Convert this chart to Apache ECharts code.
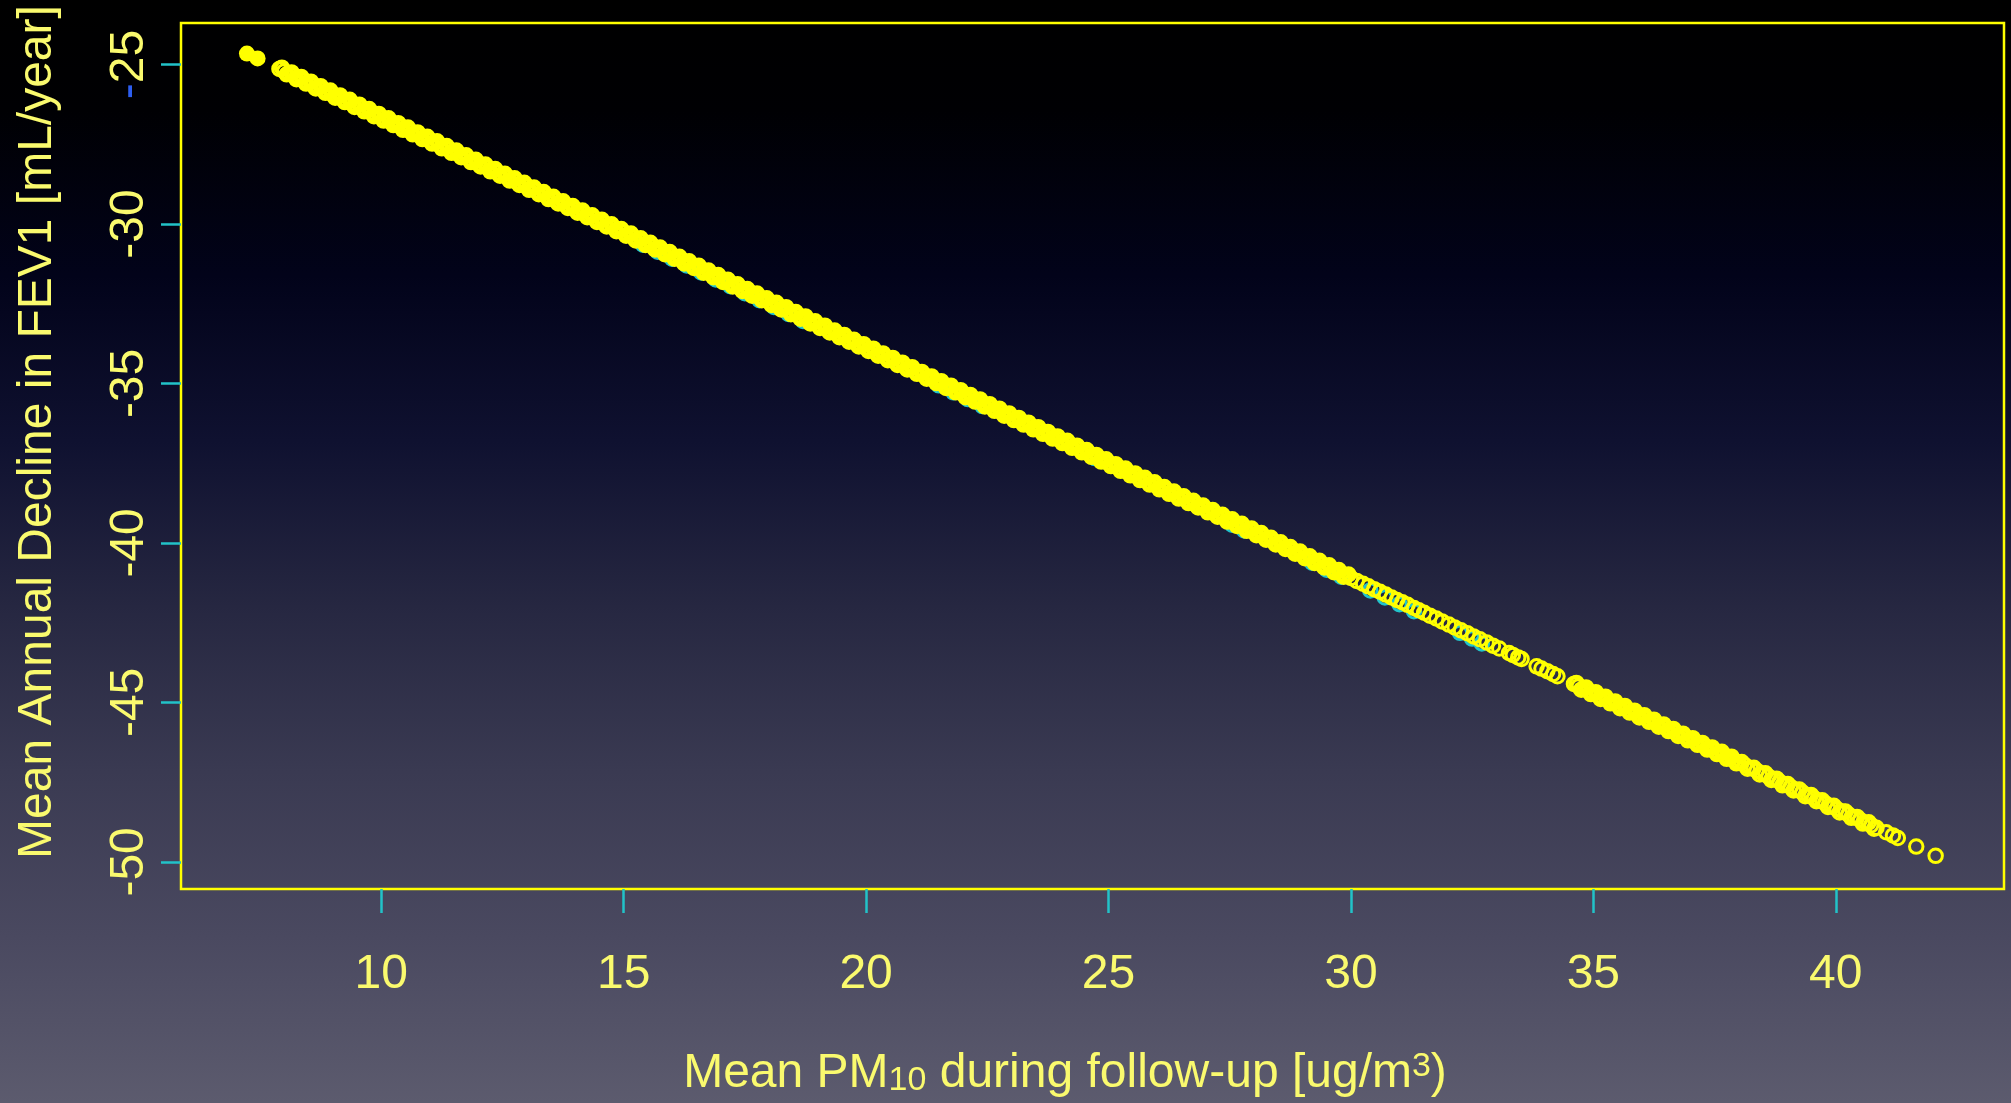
<!DOCTYPE html>
<html>
<head>
<meta charset="utf-8">
<title>Mean annual FEV1 decline vs mean PM10</title>
<script src="https://cdn.jsdelivr.net/npm/echarts@6/dist/echarts.min.js"></script>
<style>
  html, body { margin: 0; padding: 0; }
  body {
    width: 2011px; height: 1103px; overflow: hidden;
    background: linear-gradient(to bottom, #000000 0%, #000003 10%, #02031a 25%, #0f1130 40%, #262741 55%, #3a3a52 70%, #4a4960 85%, #5c5b6e 100%);
  }
  #chart { width: 2011px; height: 1103px; }
</style>
</head>
<body>
<div id="chart"></div>
<script>
// Tick positions on both axes
const xTicks = [10, 15, 20, 25, 30, 35, 40];
const yTicks = [-50, -45, -40, -35, -30, -25];

// Repeated identical values at the low-exposure end (drawn as solid dots)
const repeatedPoints = [[7.23, -24.66], [7.45, -24.81]];

// Participants: mean PM10 [ug/m3] vs predicted mean annual FEV1 decline [mL/year]
const cohortPoints = [
  [7.9,-25.14],[8.0,-25.21],[8.1,-25.28],[8.2,-25.35],[8.3,-25.43],[8.4,-25.50],[8.5,-25.57],[8.6,-25.64],[8.7,-25.71],[8.8,-25.79],[8.9,-25.86],
  [9.0,-25.93],[9.1,-26.00],[9.2,-26.08],[9.3,-26.15],[9.4,-26.22],[9.5,-26.29],[9.6,-26.36],[9.7,-26.44],[9.8,-26.51],[9.9,-26.58],
  [10.0,-26.65],[10.1,-26.73],[10.2,-26.80],[10.3,-26.87],[10.4,-26.94],[10.5,-27.01],[10.6,-27.09],[10.7,-27.16],[10.8,-27.23],[10.9,-27.30],
  [11.0,-27.38],[11.1,-27.45],[11.2,-27.52],[11.3,-27.59],[11.4,-27.66],[11.5,-27.74],[11.6,-27.81],[11.7,-27.88],[11.8,-27.95],[11.9,-28.03],
  [12.0,-28.10],[12.1,-28.17],[12.2,-28.24],[12.3,-28.31],[12.4,-28.39],[12.5,-28.46],[12.6,-28.53],[12.7,-28.60],[12.8,-28.68],[12.9,-28.75],
  [13.0,-28.82],[13.1,-28.89],[13.2,-28.96],[13.3,-29.04],[13.4,-29.11],[13.5,-29.18],[13.6,-29.25],[13.7,-29.33],[13.8,-29.40],[13.9,-29.47],
  [14.0,-29.54],[14.1,-29.61],[14.2,-29.69],[14.3,-29.76],[14.4,-29.83],[14.5,-29.90],[14.6,-29.98],[14.7,-30.05],[14.8,-30.12],[14.9,-30.19],
  [15.0,-30.26],[15.1,-30.34],[15.2,-30.41],[15.3,-30.48],[15.4,-30.55],[15.5,-30.63],[15.6,-30.70],[15.7,-30.77],[15.8,-30.84],[15.9,-30.92],
  [16.0,-30.99],[16.1,-31.06],[16.2,-31.13],[16.3,-31.20],[16.4,-31.28],[16.5,-31.35],[16.6,-31.42],[16.7,-31.49],[16.8,-31.57],[16.9,-31.64],
  [17.0,-31.71],[17.1,-31.78],[17.2,-31.85],[17.3,-31.93],[17.4,-32.00],[17.5,-32.07],[17.6,-32.14],[17.7,-32.22],[17.8,-32.29],[17.9,-32.36],
  [18.0,-32.43],[18.1,-32.50],[18.2,-32.58],[18.3,-32.65],[18.4,-32.72],[18.5,-32.79],[18.6,-32.86],[18.7,-32.94],[18.8,-33.01],[18.9,-33.08],
  [19.0,-33.15],[19.1,-33.23],[19.2,-33.30],[19.3,-33.37],[19.4,-33.44],[19.5,-33.52],[19.6,-33.59],[19.7,-33.66],[19.8,-33.73],[19.9,-33.80],
  [20.0,-33.88],[20.1,-33.95],[20.2,-34.02],[20.3,-34.09],[20.4,-34.17],[20.5,-34.24],[20.6,-34.31],[20.7,-34.38],[20.8,-34.45],[20.9,-34.53],
  [21.0,-34.60],[21.1,-34.67],[21.2,-34.74],[21.3,-34.82],[21.4,-34.89],[21.5,-34.96],[21.6,-35.03],[21.7,-35.10],[21.8,-35.18],[21.9,-35.25],
  [22.0,-35.32],[22.1,-35.39],[22.2,-35.47],[22.3,-35.54],[22.4,-35.61],[22.5,-35.68],[22.6,-35.75],[22.7,-35.83],[22.8,-35.90],[22.9,-35.97],
  [23.0,-36.04],[23.1,-36.12],[23.2,-36.19],[23.3,-36.26],[23.4,-36.33],[23.5,-36.40],[23.6,-36.48],[23.7,-36.55],[23.8,-36.62],[23.9,-36.69],
  [24.0,-36.77],[24.1,-36.84],[24.2,-36.91],[24.3,-36.98],[24.4,-37.05],[24.5,-37.13],[24.6,-37.20],[24.7,-37.27],[24.8,-37.34],[24.9,-37.42],
  [25.0,-37.49],[25.1,-37.56],[25.2,-37.63],[25.3,-37.71],[25.4,-37.78],[25.5,-37.85],[25.6,-37.92],[25.7,-37.99],[25.8,-38.07],[25.9,-38.14],
  [26.0,-38.21],[26.1,-38.28],[26.2,-38.35],[26.3,-38.43],[26.4,-38.50],[26.5,-38.57],[26.6,-38.64],[26.7,-38.72],[26.8,-38.79],[26.9,-38.86],
  [27.0,-38.93],[27.1,-39.00],[27.2,-39.08],[27.3,-39.15],[27.4,-39.22],[27.5,-39.29],[27.6,-39.37],[27.7,-39.44],[27.8,-39.51],[27.9,-39.58],
  [28.0,-39.65],[28.1,-39.73],[28.2,-39.80],[28.3,-39.87],[28.4,-39.94],[28.5,-40.02],[28.6,-40.09],[28.7,-40.16],[28.8,-40.23],[28.9,-40.30],
  [29.0,-40.38],[29.1,-40.45],[29.2,-40.52],[29.3,-40.59],[29.4,-40.67],[29.5,-40.74],[29.6,-40.81],[29.7,-40.88],[29.8,-40.96],[29.9,-41.03],
  [30.0,-41.10],[30.12,-41.19],[30.25,-41.28],[30.36,-41.36],[30.48,-41.45],[30.60,-41.53],[30.72,-41.62],[30.84,-41.71],[30.95,-41.79],
  [31.06,-41.86],[31.17,-41.94],[31.30,-42.04],[31.40,-42.11],[31.51,-42.19],[31.63,-42.28],[31.76,-42.37],[31.88,-42.46],
  [32.02,-42.56],[32.14,-42.65],[32.27,-42.74],[32.40,-42.83],[32.53,-42.93],[32.66,-43.02],[32.80,-43.12],[32.93,-43.22],
  [33.06,-43.31],[33.26,-43.45],[33.34,-43.51],[33.45,-43.59],[33.52,-43.64],[33.83,-43.87],[33.93,-43.94],
  [34.05,-44.02],[34.17,-44.11],[34.26,-44.18],
  [34.6,-44.42],[34.7,-44.49],[34.8,-44.57],[34.9,-44.64],
  [35.0,-44.71],[35.1,-44.78],[35.2,-44.86],[35.3,-44.93],[35.4,-45.00],[35.5,-45.07],[35.6,-45.14],[35.7,-45.22],[35.8,-45.29],[35.9,-45.36],
  [36.0,-45.43],[36.1,-45.51],[36.2,-45.58],[36.3,-45.65],[36.4,-45.72],[36.5,-45.79],[36.6,-45.87],[36.7,-45.94],[36.8,-46.01],[36.9,-46.08],
  [37.0,-46.16],[37.1,-46.23],[37.2,-46.30],[37.3,-46.37],[37.4,-46.44],[37.5,-46.52],[37.6,-46.59],[37.7,-46.66],[37.8,-46.73],[37.9,-46.81],
  [38.0,-46.88],[38.12,-46.96],[38.25,-47.06],[38.37,-47.14],[38.49,-47.23],[38.61,-47.32],[38.72,-47.40],[38.84,-47.48],[38.96,-47.57],
  [39.07,-47.65],[39.19,-47.74],[39.31,-47.82],[39.43,-47.91],[39.55,-48.00],[39.66,-48.08],[39.78,-48.16],[39.90,-48.25],
  [40.02,-48.34],[40.14,-48.42],[40.26,-48.51],[40.38,-48.60],[40.50,-48.68],[40.62,-48.77],[40.73,-48.85],[40.84,-48.93],
  [41.04,-49.07],[41.18,-49.17],[41.28,-49.25],[41.66,-49.52],[42.06,-49.81]
];

// Further participants between 38 and 41 ug/m3
const cohortPointsUpper = [
  [38.06,-46.87],[38.18,-47.08],[38.31,-47.05],[38.43,-47.26],[38.55,-47.22],[38.67,-47.43],[38.78,-47.39],[38.90,-47.60],
  [39.01,-47.56],[39.13,-47.76],[39.25,-47.73],[39.37,-47.94],[39.49,-47.90],[39.60,-48.10],[39.72,-48.07],[39.84,-48.28],
  [39.96,-48.24],[40.08,-48.45],[40.20,-48.42],[40.32,-48.62],[40.44,-48.59],[40.56,-48.80],[40.68,-48.76],[40.79,-48.96]
];

// Many more participants in the densely populated exposure ranges
const cohortPointsDense = [
  [7.95,-25.10],[8.05,-25.31],[8.15,-25.25],[8.25,-25.46],[8.35,-25.39],[8.45,-25.60],[8.55,-25.54],[8.65,-25.75],[8.75,-25.68],[8.85,-25.89],
  [8.95,-25.82],[9.05,-26.04],[9.15,-25.97],[9.25,-26.18],[9.35,-26.11],[9.45,-26.33],[9.55,-26.26],[9.65,-26.47],[9.75,-26.40],[9.85,-26.62],
  [9.95,-26.55],[10.05,-26.76],[10.15,-26.69],[10.25,-26.90],[10.35,-26.84],[10.45,-27.05],[10.55,-26.98],[10.65,-27.19],[10.75,-27.13],[10.85,-27.34],
  [10.95,-27.27],[11.05,-27.48],[11.15,-27.41],[11.25,-27.63],[11.35,-27.56],[11.45,-27.77],[11.55,-27.70],[11.65,-27.91],[11.75,-27.85],[11.85,-28.06],
  [11.95,-27.99],[12.05,-28.20],[12.15,-28.14],[12.25,-28.35],[12.35,-28.28],[12.45,-28.49],[12.55,-28.43],[12.65,-28.64],[12.75,-28.57],[12.85,-28.78],
  [12.95,-28.71],[13.05,-28.93],[13.15,-28.86],[13.25,-29.07],[13.35,-29.00],[13.45,-29.22],[13.55,-29.15],[13.65,-29.36],[13.75,-29.29],[13.85,-29.50],
  [13.95,-29.44],[14.05,-29.65],[14.15,-29.58],[14.25,-29.79],[14.35,-29.73],[14.45,-29.94],[14.55,-29.87],[14.65,-30.08],[14.75,-30.01],[14.85,-30.23],
  [14.95,-30.16],[15.05,-30.37],[15.15,-30.30],[15.25,-30.52],[15.35,-30.45],[15.45,-30.66],[15.55,-30.59],[15.65,-30.80],[15.75,-30.74],[15.85,-30.95],
  [15.95,-30.88],[16.05,-31.09],[16.15,-31.03],[16.25,-31.24],[16.35,-31.17],[16.45,-31.38],[16.55,-31.31],[16.65,-31.53],[16.75,-31.46],[16.85,-31.67],
  [16.95,-31.60],[17.05,-31.82],[17.15,-31.75],[17.25,-31.96],[17.35,-31.89],[17.45,-32.10],[17.55,-32.04],[17.65,-32.25],[17.75,-32.18],[17.85,-32.39],
  [17.95,-32.33],[18.05,-32.54],[18.15,-32.47],[18.25,-32.68],[18.35,-32.61],[18.45,-32.83],[18.55,-32.76],[18.65,-32.97],[18.75,-32.90],[18.85,-33.12],
  [18.95,-33.05],[19.05,-33.26],[19.15,-33.19],[19.25,-33.40],[19.35,-33.34],[19.45,-33.55],[19.55,-33.48],[19.65,-33.69],[19.75,-33.63],[19.85,-33.84],
  [19.95,-33.77],[20.05,-33.98],[20.15,-33.91],[20.25,-34.13],[20.35,-34.06],[20.45,-34.27],[20.55,-34.20],[20.65,-34.42],[20.75,-34.35],[20.85,-34.56],
  [20.95,-34.49],[21.05,-34.70],[21.15,-34.64],[21.25,-34.85],[21.35,-34.78],[21.45,-34.99],[21.55,-34.93],[21.65,-35.14],[21.75,-35.07],[21.85,-35.28],
  [21.95,-35.21],[22.05,-35.43],[22.15,-35.36],[22.25,-35.57],[22.35,-35.50],[22.45,-35.72],[22.55,-35.65],[22.65,-35.86],[22.75,-35.79],[22.85,-36.01],
  [22.95,-35.94],[23.05,-36.15],[23.15,-36.08],[23.25,-36.29],[23.35,-36.23],[23.45,-36.44],[23.55,-36.37],[23.65,-36.58],[23.75,-36.52],[23.85,-36.73],
  [23.95,-36.66],[24.05,-36.87],[24.15,-36.80],[24.25,-37.02],[24.35,-36.95],[24.45,-37.16],[24.55,-37.09],[24.65,-37.30],[24.75,-37.24],[24.85,-37.45],
  [24.95,-37.38],[25.05,-37.59],[25.15,-37.53],[25.25,-37.74],[25.35,-37.67],[25.45,-37.88],[25.55,-37.82],[25.65,-38.03],[25.75,-37.96],[25.85,-38.17],
  [25.95,-38.10],[26.05,-38.32],[26.15,-38.25],[26.25,-38.46],[26.35,-38.39],[26.45,-38.61],[26.55,-38.54],[26.65,-38.75],[26.75,-38.68],[26.85,-38.89],
  [26.95,-38.83],[27.05,-39.04],[27.15,-38.97],[27.25,-39.18],[27.35,-39.12],[27.45,-39.33],[27.55,-39.26],[27.65,-39.47],[27.75,-39.40],[27.85,-39.62],
  [27.95,-39.55],[28.05,-39.76],[28.15,-39.69],[28.25,-39.90],[28.35,-39.84],[28.45,-40.05],[28.55,-39.98],[28.65,-40.19],[28.75,-40.13],[28.85,-40.34],
  [28.95,-40.27],[29.05,-40.48],[29.15,-40.42],[29.25,-40.63],[29.35,-40.56],[29.45,-40.77],[29.55,-40.70],[29.65,-40.92],[29.75,-40.85],[29.85,-41.06],
  [29.95,-40.99],
  [34.65,-44.39],[34.75,-44.60],[34.85,-44.53],[34.95,-44.74],[35.05,-44.68],[35.15,-44.89],[35.25,-44.82],[35.35,-45.03],[35.45,-44.97],[35.55,-45.18],
  [35.65,-45.11],[35.75,-45.32],[35.85,-45.26],[35.95,-45.47],[36.05,-45.40],[36.15,-45.61],[36.25,-45.54],[36.35,-45.76],[36.45,-45.69],[36.55,-45.90],
  [36.65,-45.83],[36.75,-46.05],[36.85,-45.98],[36.95,-46.19],[37.05,-46.12],[37.15,-46.33],[37.25,-46.27],[37.35,-46.48],[37.45,-46.41],[37.55,-46.62],
  [37.65,-46.55],[37.75,-46.77],[37.85,-46.70],[37.95,-46.91]
];

// Second group, plotted underneath
const comparisonPoints = [
  [15.4,-30.65],[15.7,-30.87],[16.0,-31.09],[16.3,-31.30],[16.6,-31.52],[16.9,-31.74],[17.2,-31.95],[17.5,-32.17],
  [17.8,-32.39],[18.1,-32.60],[18.4,-32.82],[18.7,-33.04],
  [21.5,-35.06],[21.8,-35.28],[22.1,-35.49],[22.4,-35.71],
  [24.72,-37.34],[27.55,-39.43],[27.8,-39.61],
  [29.2,-40.62],[29.5,-40.84],[29.8,-41.06],[30.4,-41.49],[30.7,-41.71],[31.0,-41.92],[31.3,-42.14],
  [32.25,-42.82],[32.5,-43.00],[32.7,-43.15]
];

const FONT = '"Liberation Sans", Arial, Helvetica, sans-serif';
const LABEL_COLOR = '#fafa6e';
const TICK_COLOR = '#22c2c8';

const chart = echarts.init(document.getElementById('chart'), null, { renderer: 'canvas' });

// Open circles, fully opaque; outer diameter kept equal for both stroke widths
const ringStyle = (color, width) => ({
  color: 'rgba(0,0,0,0)',
  borderColor: color,
  borderWidth: width,
  opacity: 1
});

chart.setOption({
  backgroundColor: 'transparent',
  animation: false,
  grid: {
    left: 181, top: 23, right: 7, bottom: 214,
    show: true,
    borderColor: '#ffff00',
    borderWidth: 2.5,
    backgroundColor: 'transparent'
  },
  xAxis: {
    type: 'value',
    min: 5.87, max: 43.47,
    axisLine: { show: false },
    splitLine: { show: false },
    axisTick: { show: true, customValues: xTicks, length: 24, lineStyle: { color: TICK_COLOR, width: 2.5 } },
    axisLabel: {
      customValues: xTicks,
      margin: 62,
      color: LABEL_COLOR,
      fontSize: 48,
      fontFamily: FONT,
      formatter: (v) => String(v)
    }
  },
  yAxis: {
    type: 'value',
    min: -50.85, max: -23.70,
    axisLine: { show: false },
    splitLine: { show: false },
    axisTick: { show: true, customValues: yTicks, length: 20, lineStyle: { color: TICK_COLOR, width: 2.5 } },
    axisLabel: {
      customValues: yTicks,
      rotate: 90,
      margin: 27,
      color: LABEL_COLOR,
      fontSize: 48,
      fontFamily: FONT,
      formatter: (v) => (v === -25 ? '{m|-}25' : String(v)),
      rich: {
        m: { color: '#2d5ef0', fontSize: 48, fontFamily: FONT }
      }
    }
  },
  series: [
    {
      name: 'comparison',
      type: 'scatter',
      data: comparisonPoints,
      symbol: 'circle',
      symbolSize: 13.5,
      itemStyle: ringStyle('#22c4cc', 3),
      emphasis: { disabled: true },
      silent: true
    },
    {
      name: 'cohort (dense ranges)',
      type: 'scatter',
      data: cohortPointsDense,
      symbol: 'circle',
      symbolSize: 12.5,
      itemStyle: ringStyle('#ffff00', 4),
      emphasis: { disabled: true },
      silent: true
    },
    {
      name: 'cohort',
      type: 'scatter',
      data: cohortPoints.concat(cohortPointsUpper),
      symbol: 'circle',
      symbolSize: 13.5,
      itemStyle: ringStyle('#ffff00', 3),
      emphasis: { disabled: true },
      silent: true
    },
    {
      name: 'repeated',
      type: 'scatter',
      data: repeatedPoints,
      symbol: 'circle',
      symbolSize: 16,
      itemStyle: { color: '#ffff00', opacity: 1 },
      emphasis: { disabled: true },
      silent: true
    }
  ],
  graphic: [
    {
      type: 'text',
      x: 38, y: 432,
      rotation: Math.PI / 2,
      style: {
        text: 'Mean Annual Decline in FEV1 [mL/year]',
        fill: LABEL_COLOR,
        font: '48px ' + FONT,
        align: 'center',
        verticalAlign: 'middle'
      }
    },
    {
      type: 'text',
      x: 1065, y: 1074,
      style: {
        text: '{a|Mean PM}{s|10}{a| during follow-up [ug/m}{p|3}{a|)}',
        align: 'center',
        verticalAlign: 'middle',
        rich: {
          a: { fill: LABEL_COLOR, fontSize: 48, fontFamily: FONT, lineHeight: 48 },
          s: { fill: LABEL_COLOR, fontSize: 34, fontFamily: FONT, lineHeight: 16, verticalAlign: 'bottom' },
          p: { fill: LABEL_COLOR, fontSize: 34, fontFamily: FONT, lineHeight: 36, verticalAlign: 'top' }
        }
      }
    }
  ]
});
</script>
</body>
</html>
